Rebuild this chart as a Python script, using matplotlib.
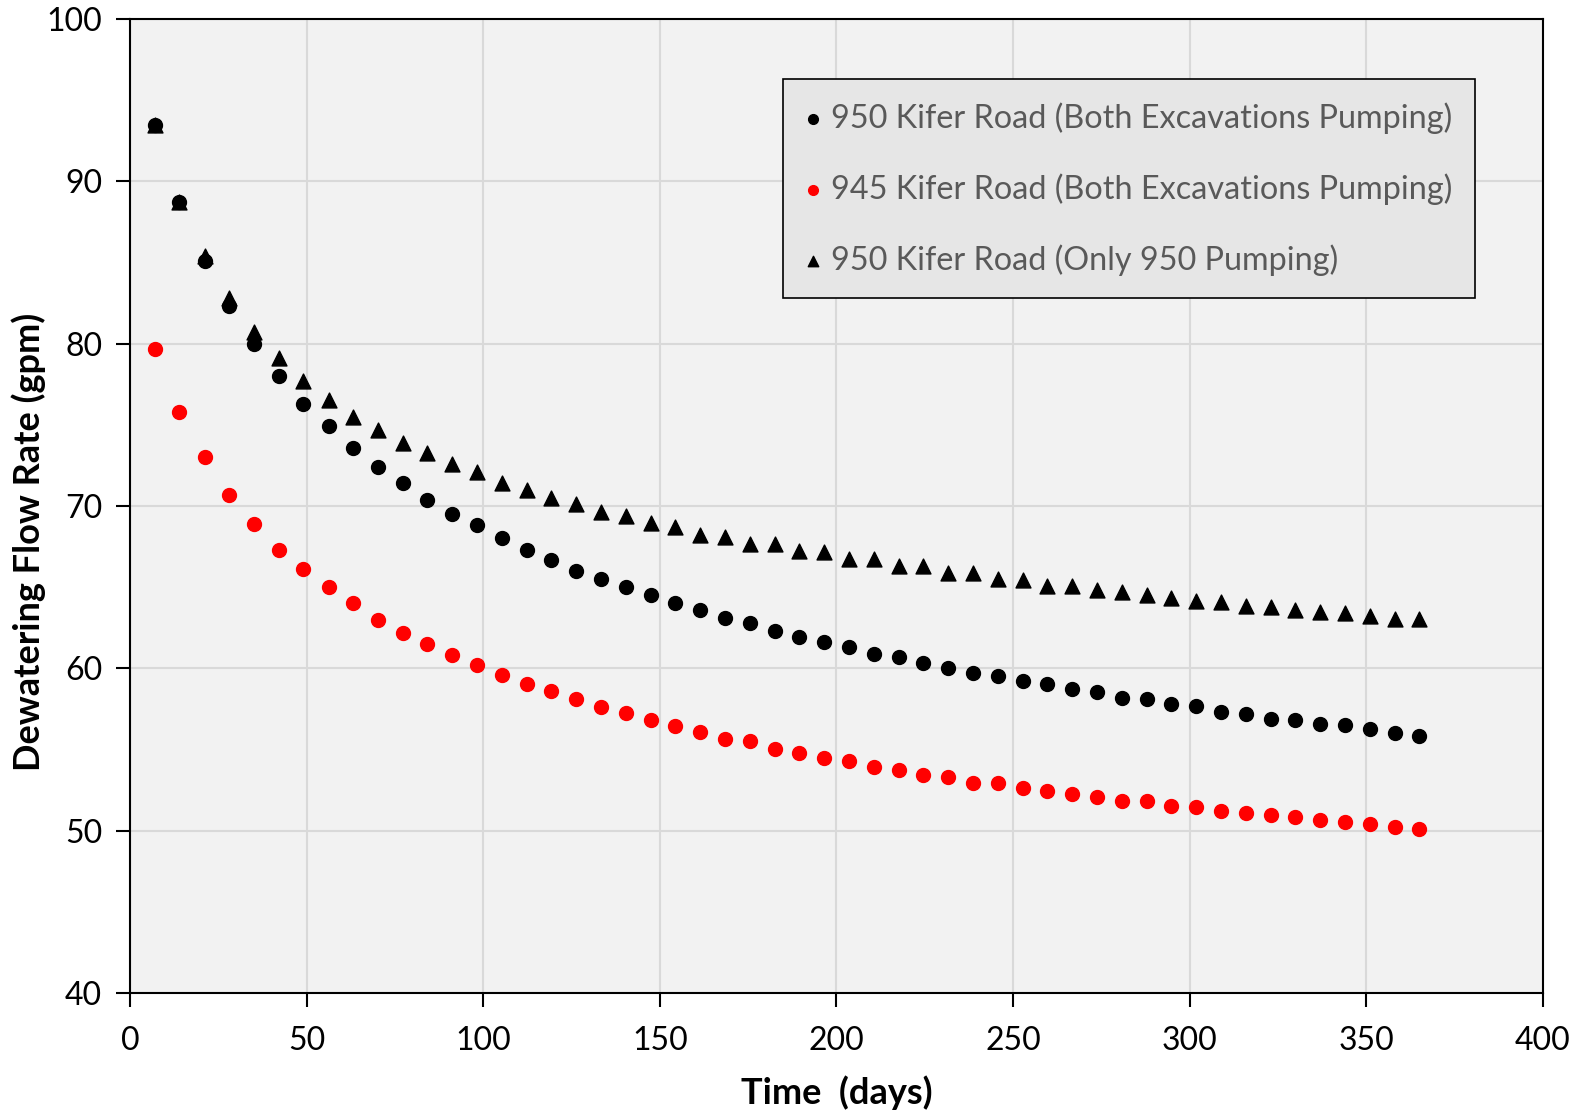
import matplotlib
matplotlib.use("Agg")
from matplotlib import pyplot as plt

# time in days (weekly steps out to one year)
days = [7.0, 14.0, 21.1, 28.1, 35.1, 42.1, 49.1, 56.2, 63.2, 70.2,
        77.2, 84.2, 91.3, 98.3, 105.3, 112.3, 119.3, 126.3, 133.4, 140.4,
        147.4, 154.4, 161.4, 168.5, 175.5, 182.5, 189.5, 196.5, 203.6, 210.6,
        217.6, 224.6, 231.6, 238.7, 245.7, 252.7, 259.7, 266.7, 273.8, 280.8,
        287.8, 294.8, 301.8, 308.8, 315.9, 322.9, 329.9, 336.9, 343.9, 351.0,
        358.0, 365.0]

# 950 Kifer Road (Both Excavations Pumping)
kifer950_both = [93.5, 88.7, 85.1, 82.3, 80.0, 78.0, 76.3, 74.9, 73.6, 72.4,
                 71.4, 70.4, 69.5, 68.8, 68.0, 67.3, 66.7, 66.0, 65.5, 65.0,
                 64.5, 64.0, 63.6, 63.1, 62.8, 62.3, 61.9, 61.6, 61.3, 60.9,
                 60.7, 60.3, 60.05, 59.7, 59.5, 59.2, 59.05, 58.7, 58.55, 58.2,
                 58.1, 57.8, 57.65, 57.3, 57.2, 56.9, 56.8, 56.6, 56.5, 56.25,
                 56.0, 55.85]

# 945 Kifer Road (Both Excavations Pumping)
kifer945_both = [79.7, 75.8, 73.0, 70.7, 68.9, 67.3, 66.1, 65.0, 64.0, 63.0,
                 62.2, 61.5, 60.8, 60.2, 59.6, 59.05, 58.6, 58.1, 57.6, 57.25,
                 56.8, 56.45, 56.1, 55.65, 55.5, 55.05, 54.8, 54.5, 54.3, 53.95,
                 53.75, 53.4, 53.3, 52.95, 52.95, 52.6, 52.45, 52.25, 52.1, 51.8,
                 51.8, 51.55, 51.45, 51.2, 51.1, 50.95, 50.85, 50.65, 50.55, 50.4,
                 50.25, 50.1]

# 950 Kifer Road (Only 950 Pumping)
kifer950_only = [93.5, 88.7, 85.4, 82.8, 80.7, 79.1, 77.7, 76.5, 75.5, 74.7,
                 73.9, 73.25, 72.6, 72.1, 71.4, 71.0, 70.5, 70.1, 69.65, 69.4,
                 68.95, 68.7, 68.2, 68.1, 67.65, 67.65, 67.2, 67.15, 66.75, 66.75,
                 66.3, 66.3, 65.9, 65.9, 65.5, 65.45, 65.1, 65.05, 64.8, 64.7,
                 64.5, 64.35, 64.15, 64.1, 63.85, 63.75, 63.6, 63.5, 63.4, 63.25,
                 63.05, 63.05]

labels = ["950 Kifer Road (Both Excavations Pumping)",
          "945 Kifer Road (Both Excavations Pumping)",
          "950 Kifer Road (Only 950 Pumping)"]


def main():
    plt.rcParams['font.family'] = ['Lato', 'DejaVu Sans']

    fig = plt.figure(figsize=(15.85, 11.17), dpi=100)
    ax = fig.add_axes([0.082, 0.111, 0.8915, 0.872])
    ax.set_facecolor("#F2F2F2")

    ax.scatter(days, kifer950_both, s=100, marker="o", color="black",
               label=labels[0], zorder=3)
    ax.scatter(days, kifer945_both, s=100, marker="o", color="#FF0000",
               label=labels[1], zorder=3)
    ax.scatter(days, kifer950_only, s=115, marker="^", color="black",
               label=labels[2], zorder=3)

    ax.set_xlim(0, 400)
    ax.set_ylim(40, 100)
    ax.set_xticks(range(0, 401, 50))
    ax.set_yticks(range(40, 101, 10))
    ax.grid(True, color="#D9D9D9", linewidth=1.5, zorder=0)
    ax.set_axisbelow(True)

    for side in ax.spines:
        ax.spines[side].set_color("black")
        ax.spines[side].set_linewidth(1.5)
    ax.tick_params(axis="both", direction="out", length=10, width=1.5,
                   labelsize=23)
    ax.tick_params(axis="x", pad=14)
    ax.tick_params(axis="y", pad=10)

    ax.set_xlabel("Time  (days)", fontsize=26, fontweight="bold",
                  va="center")
    ax.xaxis.set_label_coords(0.5, -0.102)
    ax.set_ylabel("Dewatering Flow Rate (gpm)", fontsize=26,
                  fontweight="bold", va="center")
    ax.yaxis.set_label_coords(-0.072, 0.463)

    leg = ax.legend(loc="upper right", bbox_to_anchor=(0.952, 0.938),
                    fontsize=23.3, markerscale=0.7, handletextpad=0.3,
                    labelspacing=1.22, borderpad=0.7, fancybox=False,
                    framealpha=1, facecolor="#E6E6E6", edgecolor="black",
                    handlelength=0.5, borderaxespad=0)
    leg.get_frame().set_linewidth(1.2)
    for txt in leg.get_texts():
        txt.set_color("#595959")

    fig.savefig("out.png", dpi=100)


if __name__ == "__main__":
    main()
